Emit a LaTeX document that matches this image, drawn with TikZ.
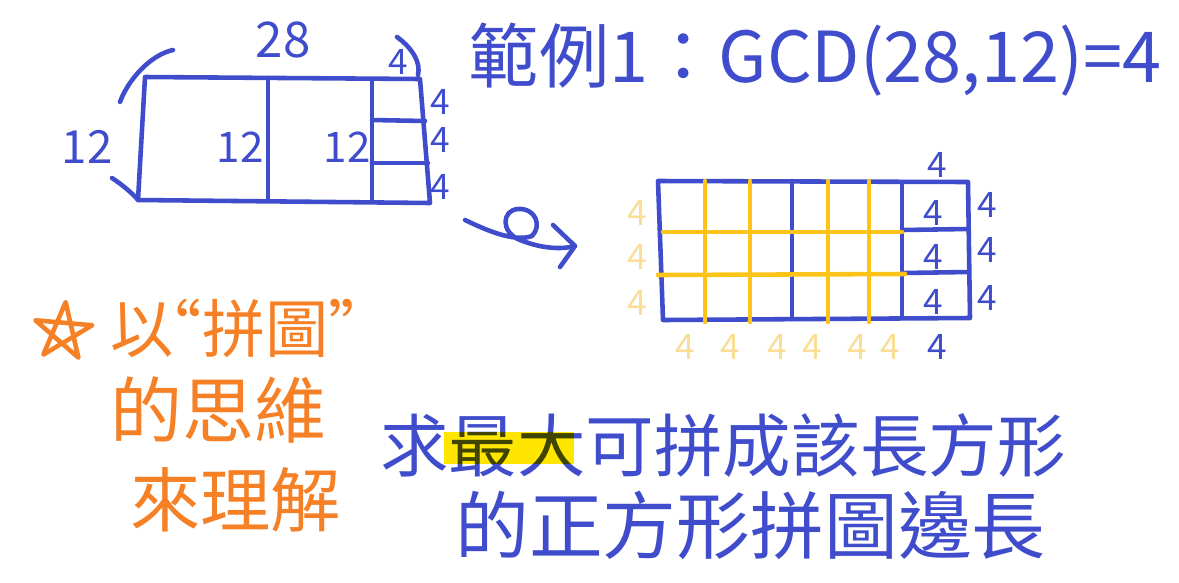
\documentclass[tikz,border=0pt]{standalone}
\usepackage{fontspec}
\setmainfont{Noto Sans CJK TC}
\usetikzlibrary{arrows.meta}

\definecolor{penblue}{RGB}{63,76,204}
\definecolor{penorange}{RGB}{246,128,38}
\definecolor{pengold}{RGB}{252,196,25}
\definecolor{palegold}{RGB}{250,222,150}
\definecolor{hilite}{RGB}{255,230,0}

\begin{document}
\begin{tikzpicture}[x=0.02cm, y=-0.02cm,
		pen/.style={draw=penblue, line width=2.6pt, line cap=round, line join=round},
		goldpen/.style={draw=pengold, line width=2.6pt, line cap=round},
		orangepen/.style={draw=penorange, line width=2.6pt, line cap=round, line join=round},
		num/.style={text=penblue, inner sep=0pt, font=\fontsize{20}{24}\selectfont},
		palenum/.style={text=palegold, inner sep=0pt, font=\fontsize{20}{24}\selectfont},
		big/.style={inner sep=0pt, anchor=west, font=\fontsize{39}{44}\selectfont}]
		\useasboundingbox (0,0) rectangle (1179,582);
		
		% (1) 28 x 12 rectangle
		\draw[pen] (145,77) -- (420,79) -- (430,203) -- (138,200) -- cycle;
		\draw[pen] (268,78) -- (268,201);
		\draw[pen] (372,79) -- (372,202);
		\draw[pen] (372,120) -- (425,121);
		\draw[pen] (372,163) -- (428,163);
		\draw[pen] (120,102) .. controls (128,80) and (150,55) .. (173,50);
		\draw[pen] (112,178) .. controls (124,186) and (133,194) .. (138,200);
		\draw[pen] (397,37) .. controls (412,48) and (421,62) .. (418,75);
		\node[num, font=\fontsize{28}{30}\selectfont] (w28) at (283,40) {28};
		\node[num, font=\fontsize{26}{30}\selectfont] (h12) at (87,147) {12};
		\node[num, font=\fontsize{24}{28}\selectfont] (sqa) at (240,147) {12};
		\node[num, font=\fontsize{24}{28}\selectfont] (sqb) at (347,147) {12};
		\node[num] (t4) at (398,62) {4};
		\foreach \y [count=\i] in {102,140,187}
			\node[num] (r4\i) at (440,\y) {4};
		
		% (2) title
		\node[text=penblue, inner sep=0pt, font=\fontsize{40}{46}\selectfont] (title) at (815,60) {範例1：GCD(28,12)=4};
		
		% (3) curly arrow
		\coordinate (curlstart) at (465,220);
		\coordinate (curlend) at (575,246);
		\draw[pen] (curlstart) .. controls (490,232) and (515,242) .. (532,236)
			.. controls (542,226) and (536,208) .. (518,209)
			.. controls (502,210) and (500,232) .. (520,240)
			.. controls (540,248) and (560,250) .. (curlend);
		\draw[pen] (curlend) ++(-22,-21) -- (curlend) -- ++(-15,21);
		
		% (4) 4 x 4 tiling
		\draw[pen] (658,181) -- (968,182) -- (970,318) -- (663,320) -- cycle;
		\draw[pen] (792,181) -- (792,319);
		\draw[pen] (902,182) -- (902,318);
		\draw[pen] (902,230) -- (968,229);
		\draw[pen] (902,273) -- (969,272);
		\foreach \x in {705,750,828,869}
			\draw[goldpen] (\x,181) -- (\x,322);
		\draw[goldpen] (663,232) -- (902,232);
		\draw[goldpen] (658,275) -- (905,274);
		\node[num] (gtop) at (937,165) {4};
		\node[num] (gbot) at (937,347) {4};
		\foreach \y [count=\i] in {213,257,302}
			\node[num] (gin\i) at (933,\y) {4};
		\foreach \y [count=\i] in {205,250,298}
			\node[num] (gout\i) at (987,\y) {4};
		\foreach \y [count=\i] in {213,257,303}
			\node[palenum] (pl\i) at (637,\y) {4};
		\foreach \x [count=\i] in {685,730,777,812,857,890}
			\node[palenum] (pb\i) at (\x,347) {4};
		
		% (5) orange note
		\begin{scope}[shift={(63,332)}]
			\draw[orangepen] (275:30) -- (59:30) -- (203:30) -- (347:30) -- (131:30) -- cycle;
		\end{scope}
		\node[big, text=penorange, font=\fontsize{36}{40}\selectfont] (ideaa) at (110,328) {以\kern-0.55em“拼圖”};
		\node[big, text=penorange, font=\fontsize{41}{46}\selectfont] (ideab) at (110,410) {的思維};
		\node[big, text=penorange, font=\fontsize{40}{46}\selectfont] (ideac) at (130,500) {來理解};
		
		% (6) question
		\node[big, text=penblue] (aska) at (380,445) {求最大可拼成該長方形};
		\node[big, text=penblue, font=\fontsize{42}{48}\selectfont] (askb) at (455,525) {的正方形拼圖邊長};
		\fill[hilite, blend mode=multiply] (444,432) rectangle (574,464);
	\end{tikzpicture}
\end{document}
